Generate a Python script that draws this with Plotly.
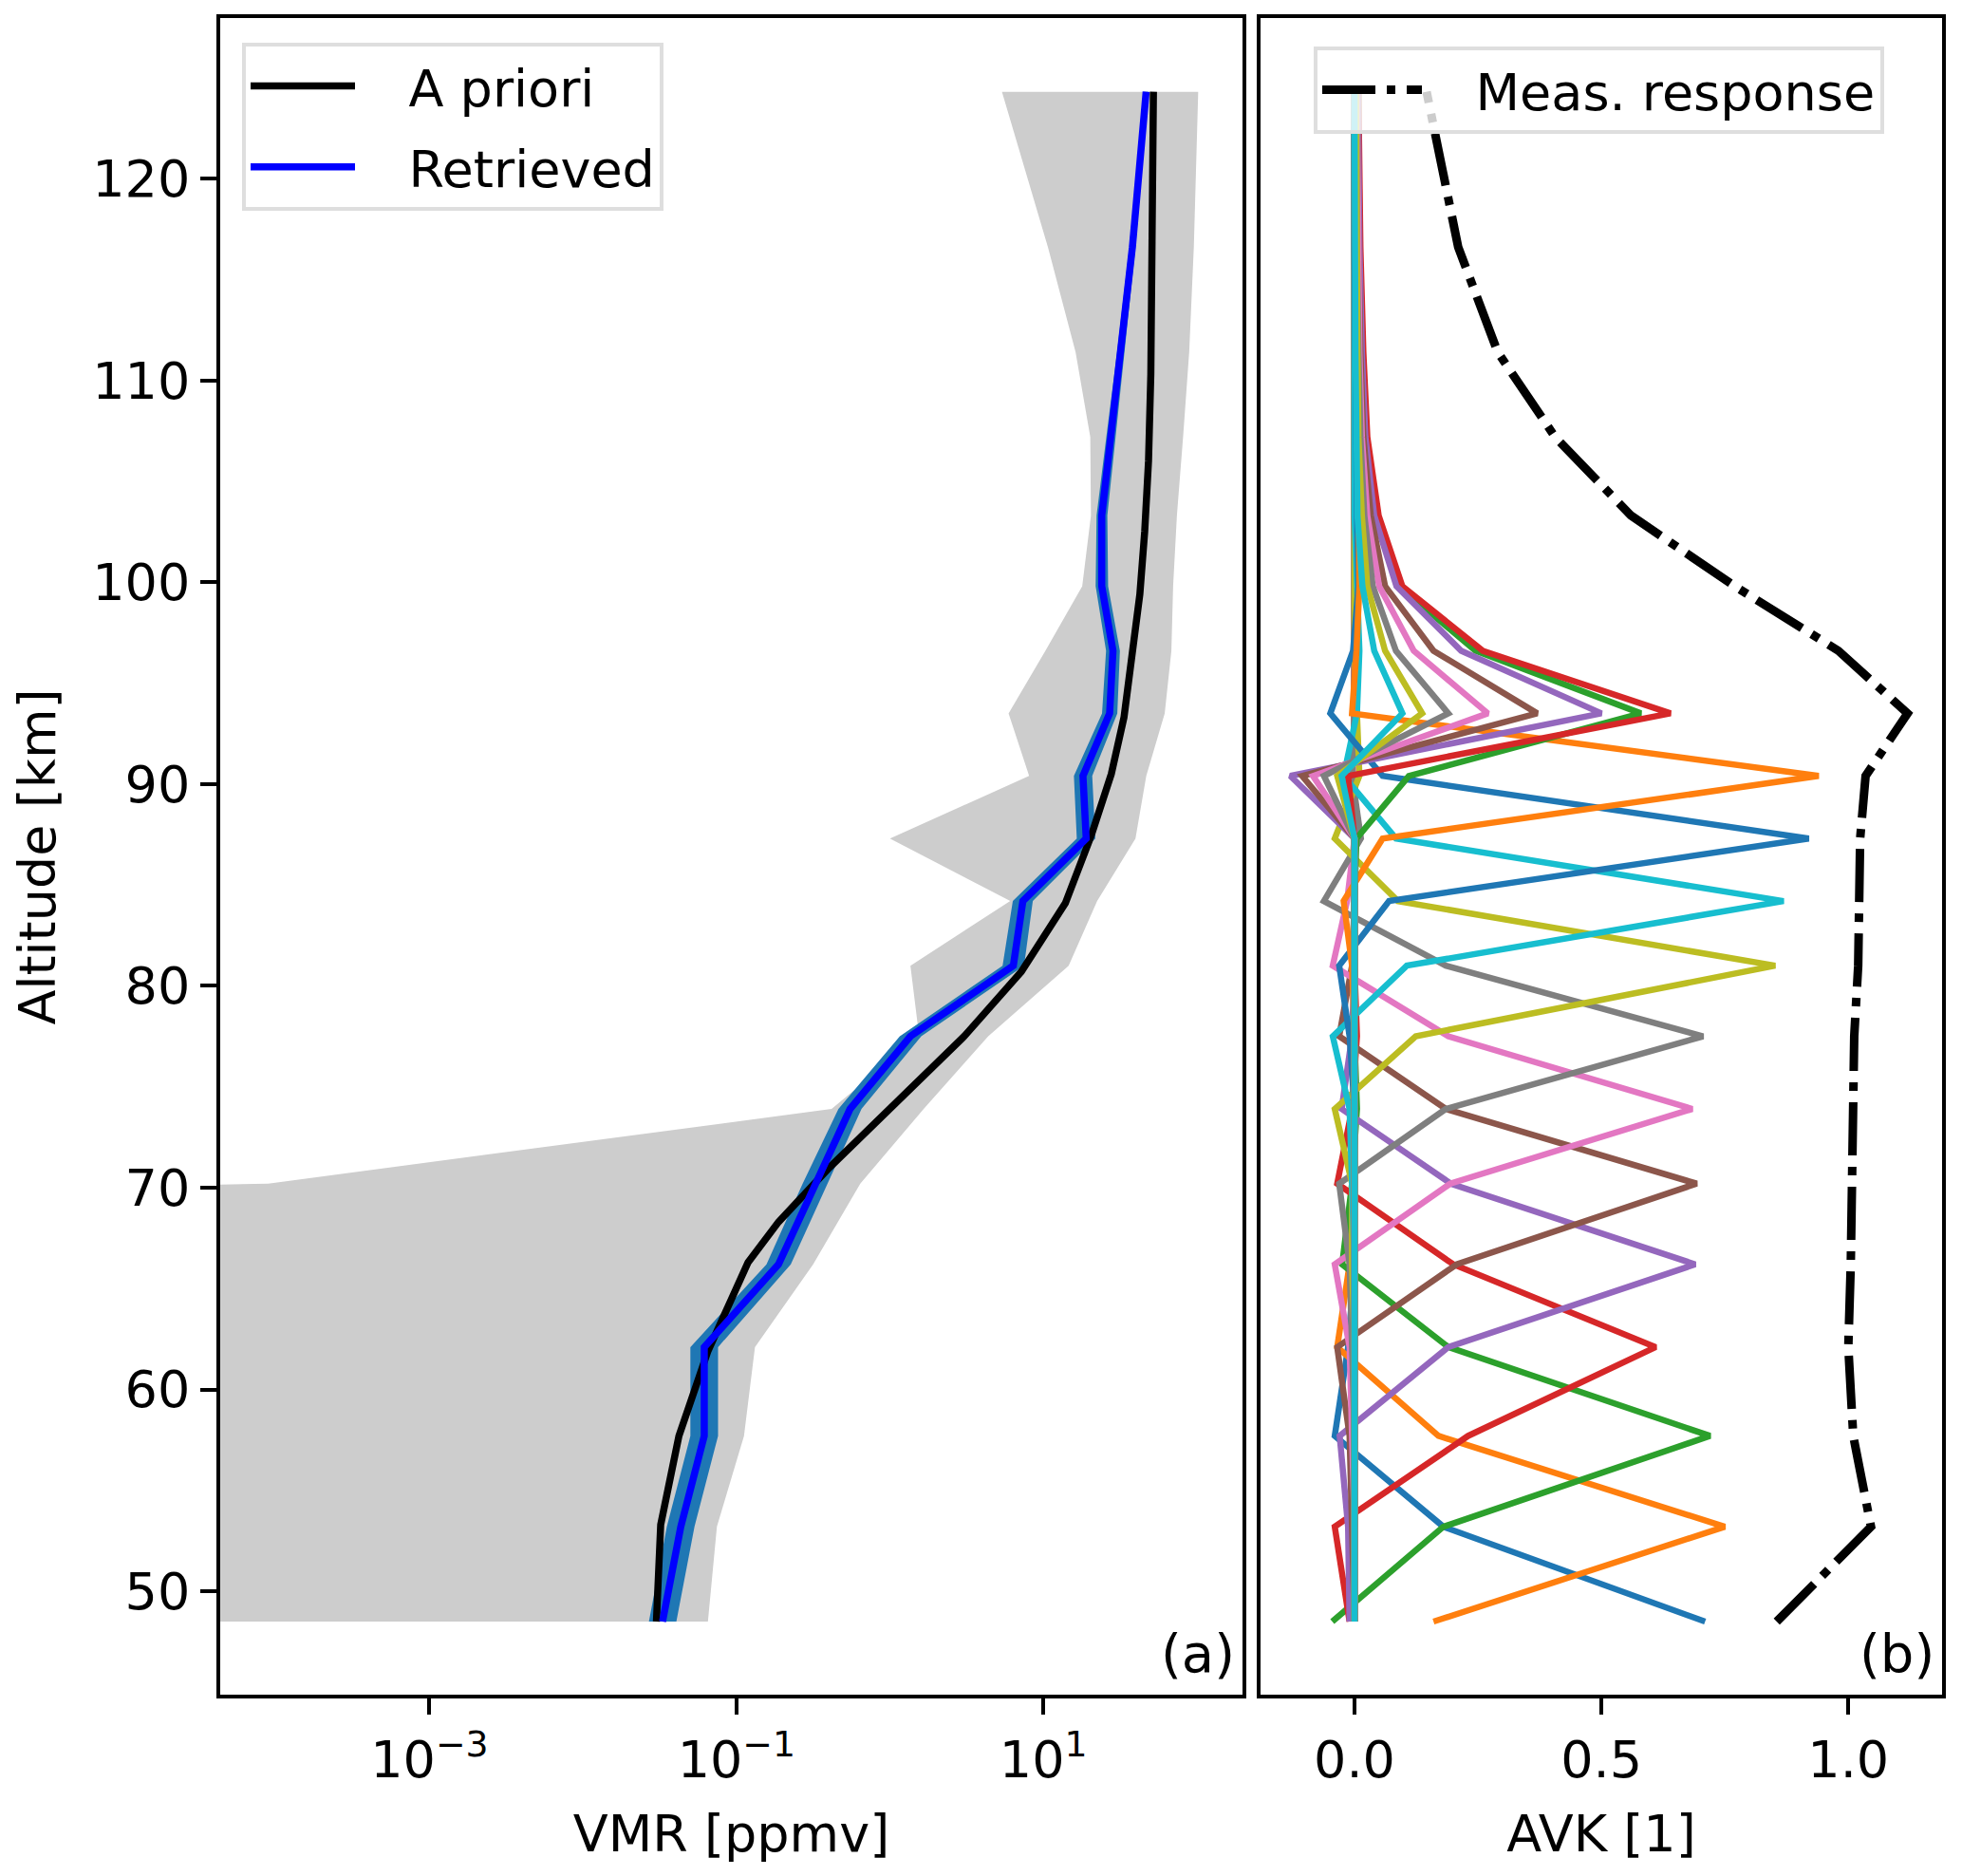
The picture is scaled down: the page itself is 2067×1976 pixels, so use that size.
import plotly.graph_objects as go

# retrieval altitude grid [km]
altitude = [48.5, 53.2, 57.7, 62.1, 66.2, 70.2, 73.9, 77.5, 81.0, 84.2,
            87.3, 90.4, 93.5, 96.6, 99.8, 103.3, 107.2, 111.4, 116.6, 124.3]

# a priori profile (own grid) [ppmv]
apriori_alt = [48.5, 53.3, 57.7, 61.9, 66.3, 68.3, 71.0, 77.5, 80.7, 84.1,
               87.4, 90.5, 93.3, 96.3, 99.4, 102.5, 106.0, 110.3, 116.5, 124.3]
apriori_vmr = [0.0301, 0.0321, 0.0422, 0.0652, 0.119, 0.188, 0.404, 3.05, 7.18, 13.9,
               20.4, 27.7, 33.5, 37.8, 42.5, 45.7, 48.4, 50.1, 51.5, 52.1]

# retrieved profile and its error band [ppmv]
retrieved_vmr = [0.0330, 0.0434, 0.0617, 0.0617, 0.188, 0.325, 0.550, 1.36, 6.37, 7.35,
                 19.0, 18.1, 27.0, 28.4, 24.0, 24.0, 27.5, 32.0, 38.0, 46.7]
retrieved_lo = [0.0269, 0.0352, 0.0501, 0.0501, 0.157, 0.270, 0.462, 1.16, 5.42, 6.32,
                16.5, 15.8, 24.1, 25.6, 21.9, 22.2, 25.7, 30.2, 36.3, 45.1]
retrieved_hi = [0.0406, 0.0533, 0.0759, 0.0759, 0.226, 0.391, 0.653, 1.60, 7.48, 8.53,
                21.8, 20.8, 30.3, 31.5, 26.4, 26.1, 29.5, 33.9, 39.8, 48.3]

# grey band (values below the axis are clipped in the original)
band_lo = [1e-30, 1e-30, 1e-30, 1e-30, 1e-30, 8.9e-5, 0.417, 1.55, 1.36, 6.08,
           1.0, 8.07, 5.93, 10.3, 17.9, 20.4, 20.2, 16.2, 10.7, 5.37]
band_hi = [0.0652, 0.0746, 0.112, 0.132, 0.316, 0.641, 1.66, 4.37, 14.6, 22.4,
           39.8, 46.8, 61.7, 68.2, 70.0, 74.1, 81.3, 89.1, 95.5, 102.0]

# measurement response
meas_response = [0.855, 1.046, 1.01, 1.0, 1.005, 1.008, 1.008, 1.012, 1.02, 1.022,
                 1.024, 1.035, 1.12, 0.98, 0.77, 0.56, 0.406, 0.29, 0.21, 0.146]

# averaging kernel rows, one per retrieval level
avk_00 = [0.71, 0.18, -0.04, -0.013, 0.0, 0.0, 0.0, 0.0, 0.0, 0.0, 0.0, 0.0, 0.0, 0.0, 0.0, 0.0, 0.0, 0.0, 0.0, 0.0]
avk_01 = [0.16, 0.75, 0.17, -0.035, -0.01, 0.0, 0.0, 0.0, 0.0, 0.0, 0.0, 0.0, 0.0, 0.0, 0.0, 0.0, 0.0, 0.0, 0.0, 0.0]
avk_02 = [-0.045, 0.18, 0.72, 0.19, -0.025, -0.005, 0.005, 0.0, 0.0, 0.0, 0.0, 0.0, 0.0, 0.0, 0.0, 0.0, 0.0, 0.0, 0.0, 0.0]
avk_03 = [-0.01, -0.04, 0.23, 0.61, 0.2, -0.035, -0.005, 0.005, 0.0, 0.0, 0.0, 0.0, 0.0, 0.0, 0.0, 0.0, 0.0, 0.0, 0.0, 0.0]
avk_04 = [-0.01, -0.013, -0.03, 0.19, 0.69, 0.195, -0.026, -0.005, 0.0, 0.0, 0.0, 0.0, 0.0, 0.0, 0.0, 0.0, 0.0, 0.0, 0.0, 0.0]
avk_05 = [0.0, -0.005, -0.01, -0.035, 0.207, 0.693, 0.185, -0.031, -0.005, 0.0, 0.0, 0.0, 0.0, 0.0, 0.0, 0.0, 0.0, 0.0, 0.0, 0.0]
avk_06 = [0.0, 0.0, -0.005, -0.01, -0.04, 0.194, 0.684, 0.19, -0.044, -0.015, 0.0, 0.0, 0.0, 0.0, 0.0, 0.0, 0.0, 0.0, 0.0, 0.0]
avk_07 = [0.0, 0.0, 0.0, -0.005, -0.01, -0.031, 0.185, 0.706, 0.185, -0.062, 0.013, -0.005, 0.0, 0.0, 0.0, 0.0, 0.0, 0.0, 0.0, 0.0]
avk_08 = [0.0, 0.0, 0.0, 0.0, -0.005, -0.005, -0.04, 0.124, 0.852, 0.088, -0.04, 0.01, 0.005, 0.0, 0.0, 0.0, 0.0, 0.0, 0.0, 0.0]
avk_09 = [0.0, 0.0, 0.0, 0.0, 0.0, -0.005, -0.01, -0.044, 0.106, 0.869, 0.084, -0.022, 0.005, 0.01, 0.005, 0.0, 0.0, 0.0, 0.0, 0.0]
avk_10 = [0.0, 0.0, 0.0, 0.0, 0.0, 0.0, 0.0, -0.01, -0.031, 0.07, 0.92, 0.057, -0.049, -0.003, 0.008, 0.005, 0.003, 0.0, 0.0, 0.0]
avk_11 = [0.0, 0.0, 0.0, 0.0, 0.0, 0.0, 0.0, 0.0, -0.005, -0.022, 0.057, 0.94, -0.005, 0.004, 0.01, 0.008, 0.005, 0.003, 0.002, 0.0]
avk_12 = [0.0, 0.0, 0.0, 0.0, 0.0, 0.0, 0.0, 0.0, 0.0, 0.0, 0.004, 0.11, 0.58, 0.245, 0.09, 0.045, 0.022, 0.015, 0.01, 0.008]
avk_13 = [0.0, 0.0, 0.0, 0.0, 0.0, 0.0, 0.0, 0.0, 0.0, 0.0, 0.0, -0.013, 0.64, 0.26, 0.097, 0.049, 0.026, 0.018, 0.012, 0.008]
avk_14 = [0.0, 0.0, 0.0, 0.0, 0.0, 0.0, 0.0, 0.0, 0.0, 0.0, 0.0, -0.13, 0.5, 0.216, 0.085, 0.04, 0.022, 0.015, 0.01, 0.007]
avk_15 = [0.0, 0.0, 0.0, 0.0, 0.0, 0.0, 0.0, 0.0, 0.0, 0.0, 0.0, -0.106, 0.37, 0.16, 0.062, 0.033, 0.018, 0.012, 0.008, 0.006]
avk_16 = [0.0, 0.0, 0.0, 0.0, 0.0, 0.0, 0.0, 0.0, 0.0, 0.0, 0.0, -0.084, 0.27, 0.12, 0.05, 0.026, 0.015, 0.01, 0.007, 0.005]
avk_17 = [0.0, 0.0, 0.0, 0.0, 0.0, 0.0, 0.0, 0.0, 0.0, 0.0, 0.0, -0.062, 0.19, 0.084, 0.037, 0.02, 0.012, 0.008, 0.005, 0.004]
avk_18 = [0.0, 0.0, 0.0, 0.0, 0.0, 0.0, 0.0, 0.0, 0.0, 0.0, 0.0, -0.035, 0.137, 0.062, 0.026, 0.015, 0.008, 0.006, 0.004, 0.003]
avk_19 = [0.0, 0.0, 0.0, 0.0, 0.0, 0.0, 0.0, 0.0, 0.0, 0.0, 0.0, -0.026, 0.097, 0.04, 0.016, 0.006, 0.003, 0.002, 0.001, 0.0]

avk_rows = [avk_00, avk_01, avk_02, avk_03, avk_04, avk_05, avk_06, avk_07, avk_08, avk_09,
            avk_10, avk_11, avk_12, avk_13, avk_14, avk_15, avk_16, avk_17, avk_18, avk_19]

# matplotlib default colour cycle
tab10 = ["#1f77b4", "#ff7f0e", "#2ca02c", "#d62728", "#9467bd",
         "#8c564b", "#e377c2", "#7f7f7f", "#bcbd22", "#17becf"]

FONT = "DejaVu Sans"
FS = 54
NB = "\u00a0\u00a0\u00a0"  # gap between legend line and label

fig = go.Figure()

# (a) VMR panel
fig.add_trace(go.Scatter(x=band_hi + band_lo[::-1], y=altitude + altitude[::-1],
                         fill="toself", fillcolor="#cdcdcd", mode="lines",
                         line=dict(width=0), showlegend=False, hoverinfo="skip",
                         xaxis="x", yaxis="y"))
fig.add_trace(go.Scatter(x=retrieved_hi + retrieved_lo[::-1], y=altitude + altitude[::-1],
                         fill="toself", fillcolor="#1f77b4", mode="lines",
                         line=dict(width=0), showlegend=False, hoverinfo="skip",
                         xaxis="x", yaxis="y"))
fig.add_trace(go.Scatter(x=apriori_vmr, y=apriori_alt, mode="lines", name=NB + "A priori",
                         line=dict(color="black", width=7.5), xaxis="x", yaxis="y",
                         legend="legend", legendgroup="ap"))
fig.add_trace(go.Scatter(x=retrieved_vmr, y=altitude, mode="lines", name=NB + "Retrieved",
                         line=dict(color="#0000ff", width=7.5), xaxis="x", yaxis="y",
                         legend="legend", legendgroup="ret"))

# (b) AVK panel
for i, row in enumerate(avk_rows):
    fig.add_trace(go.Scatter(x=row, y=altitude, mode="lines",
                             line=dict(color=tab10[i % 10], width=6.5),
                             showlegend=False, xaxis="x2", yaxis="y2"))
fig.add_trace(go.Scatter(x=meas_response, y=altitude, mode="lines",
                         name=NB + "Meas. response",
                         line=dict(color="black", width=9, dash="56px,12px,9px,12px"),
                         xaxis="x2", yaxis="y2", legend="legend2"))

axis_style = dict(showgrid=False, zeroline=False, showline=True, linecolor="black",
                  linewidth=4, mirror=True, ticks="outside", ticklen=17, tickwidth=4,
                  tickcolor="black", tickfont=dict(family=FONT, size=FS, color="black"))

fig.update_layout(
    width=2067, height=1976, autosize=False,
    margin=dict(l=0, r=0, t=0, b=0),
    paper_bgcolor="white", plot_bgcolor="white",
    font=dict(family=FONT, size=FS, color="black"),
    xaxis=dict(type="log", range=[-4.363, 2.297], domain=[0.1084, 0.6294],
               tickvals=[1e-3, 1e-1, 1e1],
               ticktext=["10<sup>\u22123</sup>", "10<sup>\u22121</sup>", "10<sup>1</sup>"],
               ticklabelstandoff=1,
               title=dict(text="VMR [ppmv]", font=dict(family=FONT, size=FS), standoff=29),
               anchor="y", **axis_style),
    yaxis=dict(range=[44.86, 127.93], domain=[0.1005, 0.9942],
               tickvals=[50, 60, 70, 80, 90, 100, 110, 120],
               title=dict(text="Altitude [km]", font=dict(family=FONT, size=FS), standoff=28),
               anchor="x", **axis_style),
    xaxis2=dict(range=[-0.1903, 1.190], domain=[0.6386, 0.9860],
                tickvals=[0.0, 0.5, 1.0], ticktext=["0.0", "0.5", "1.0"],
                ticklabelstandoff=1,
                title=dict(text="AVK [1]", font=dict(family=FONT, size=FS), standoff=29),
                anchor="y2", **axis_style),
    yaxis2=dict(range=[44.86, 127.93], domain=[0.1005, 0.9942], anchor="x2",
                showgrid=False, zeroline=False, showline=True, linecolor="black",
                linewidth=4, mirror=True, ticks="", showticklabels=False),
    legend=dict(x=0.1195, y=0.9813, xanchor="left", yanchor="top",
                bgcolor="rgba(255,255,255,0.8)", bordercolor="#dedede", borderwidth=4,
                font=dict(family=FONT, size=FS), itemwidth=110, tracegroupgap=12),
    legend2=dict(x=0.6657, y=0.9793, xanchor="left", yanchor="top",
                 bgcolor="rgba(255,255,255,0.8)", bordercolor="#dedede", borderwidth=4,
                 font=dict(family=FONT, size=FS), itemwidth=105),
    annotations=[
        dict(text="(a)", x=0.6265, y=0.1053, xref="paper", yref="paper",
             xanchor="right", yanchor="bottom", showarrow=False,
             font=dict(family=FONT, size=56)),
        dict(text="(b)", x=0.9830, y=0.1053, xref="paper", yref="paper",
             xanchor="right", yanchor="bottom", showarrow=False,
             font=dict(family=FONT, size=56)),
    ],
)

fig.write_html("out.html")
